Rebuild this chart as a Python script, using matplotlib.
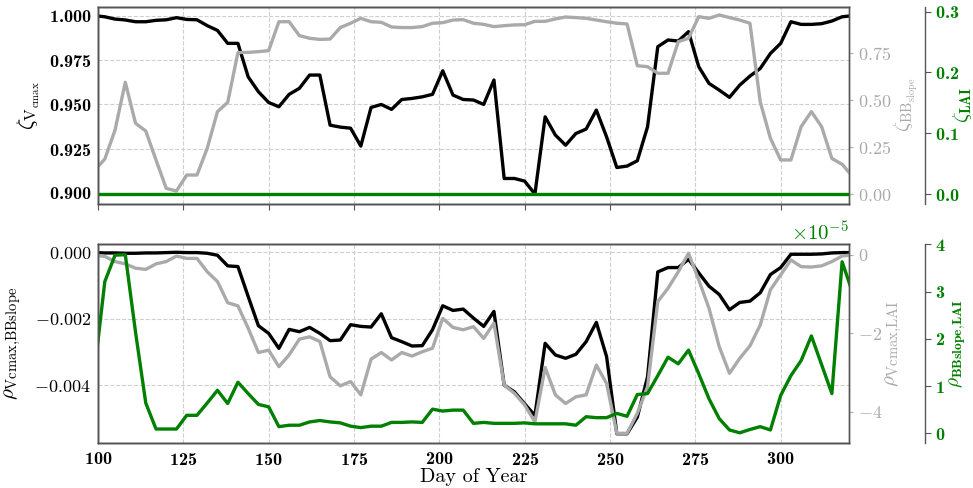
import numpy as np
import matplotlib
matplotlib.use('Agg')
import matplotlib.pyplot as plt
from matplotlib.ticker import FuncFormatter

# sample days (every 3 days, first and last fall just outside the x range)
days = list(range(99, 322, 3))

# top panel: zeta values
zeta_vcmax = [
    1.0000, 0.9994, 0.9981, 0.9976, 0.9966, 0.9966, 0.9974, 0.9977, 0.9989, 0.9979,
    0.9977, 0.9944, 0.9917, 0.9844, 0.9844, 0.9655, 0.9571, 0.9510, 0.9486, 0.9556,
    0.9590, 0.9665, 0.9665, 0.9382, 0.9371, 0.9365,
    0.9264, 0.9482, 0.9499, 0.9471, 0.9527, 0.9533, 0.9542, 0.9556, 0.9689, 0.9552,
    0.9527, 0.9524, 0.9499, 0.9637, 0.9081, 0.9081, 0.9066, 0.8993, 0.9429, 0.9326,
    0.9269, 0.9335, 0.9360, 0.9467,
    0.9316, 0.9143, 0.9151, 0.9181, 0.9373, 0.9825, 0.9863, 0.9857, 0.9910, 0.9712,
    0.9618, 0.9580, 0.9539, 0.9608, 0.9659, 0.9702, 0.9787, 0.9844, 0.9966, 0.9951,
    0.9951, 0.9955, 0.9970, 0.9994, 1.0000,
]
zeta_bbslope = [
    0.128, 0.188, 0.342, 0.596, 0.378, 0.337, 0.183, 0.032, 0.018, 0.103,
    0.103, 0.245, 0.440, 0.489, 0.754, 0.755, 0.759, 0.764, 0.918, 0.918,
    0.844, 0.830, 0.824, 0.826, 0.887, 0.910,
    0.936, 0.918, 0.915, 0.890, 0.887, 0.887, 0.892, 0.910, 0.913, 0.927,
    0.929, 0.910, 0.904, 0.892, 0.897, 0.901, 0.902, 0.920, 0.920, 0.933,
    0.943, 0.940, 0.936, 0.927,
    0.918, 0.910, 0.906, 0.684, 0.679, 0.644, 0.644, 0.812, 0.830, 0.945,
    0.936, 0.954, 0.940, 0.927, 0.910, 0.493, 0.298, 0.183, 0.183, 0.360,
    0.440, 0.360, 0.191, 0.160, 0.096,
]
zeta_lai = [
    0.0, 0.0, 0.0, 0.0, 0.0, 0.0, 0.0, 0.0, 0.0, 0.0, 0.0, 0.0, 0.0, 0.0, 0.0,
    0.0, 0.0, 0.0, 0.0, 0.0, 0.0, 0.0, 0.0, 0.0, 0.0, 0.0, 0.0, 0.0, 0.0, 0.0,
    0.0, 0.0, 0.0, 0.0, 0.0, 0.0, 0.0, 0.0, 0.0, 0.0, 0.0, 0.0, 0.0, 0.0, 0.0,
    0.0, 0.0, 0.0, 0.0, 0.0, 0.0, 0.0, 0.0, 0.0, 0.0, 0.0, 0.0, 0.0, 0.0, 0.0,
    0.0, 0.0, 0.0, 0.0, 0.0, 0.0, 0.0, 0.0, 0.0, 0.0, 0.0, 0.0, 0.0, 0.0, 0.0,
]

# bottom panel: rho values
rho_vcmax_bbslope = [
    -0.00001, -0.00002, -0.00002, -0.00003, -0.00003, -0.00002, -0.00002, -0.00001, 0.0, -0.00001,
    -0.00001, -0.00003, -0.00009, -0.00041, -0.00043, -0.00133, -0.00221, -0.00244, -0.00289, -0.00232,
    -0.00239, -0.00226, -0.00244, -0.00266, -0.00264, -0.00218,
    -0.00223, -0.00225, -0.00185, -0.00257, -0.00269, -0.00282, -0.00281, -0.00233, -0.00161, -0.00175,
    -0.00171, -0.00198, -0.00223, -0.00178, -0.00400, -0.00420, -0.00456, -0.00491, -0.00274, -0.00309,
    -0.00319, -0.00307, -0.00269, -0.00211,
    -0.00314, -0.00546, -0.00546, -0.00496, -0.00375, -0.00059, -0.00046, -0.00046, -0.00021, -0.00062,
    -0.00102, -0.00127, -0.00173, -0.00151, -0.00147, -0.00122, -0.00067, -0.00046, -0.00006, -0.00006,
    -0.00006, -0.00005, -0.00002, -0.00001, -0.00001,
]
rho_vcmax_lai = [
    -0.01, -0.04, -0.17, -0.23, -0.34, -0.37, -0.23, -0.17, -0.03, -0.09,
    -0.09, -0.43, -0.68, -1.22, -1.30, -1.87, -2.49, -2.43, -2.85, -2.55,
    -2.15, -2.09, -2.21, -3.11, -3.34, -3.23,
    -3.57, -2.66, -2.49, -2.68, -2.49, -2.58, -2.47, -2.38, -1.62, -1.85,
    -1.91, -1.83, -2.13, -1.74, -3.32, -3.53, -3.83, -4.26, -2.87, -3.57,
    -3.79, -3.62, -3.57, -2.81,
    -3.28, -4.55, -4.55, -4.04, -3.36, -1.19, -0.85, -0.43, 0.04, -0.64,
    -1.36, -2.34, -3.02, -2.64, -2.32, -1.79, -0.89, -0.51, -0.13, -0.30,
    -0.31, -0.28, -0.17, -0.03, 0.00,
]
# in units of 1e-5
rho_bbslope_lai = [
    1.33, 3.21, 3.77, 3.78, 2.14, 0.64, 0.09, 0.09, 0.09, 0.38,
    0.38, 0.64, 0.91, 0.63, 1.08, 0.84, 0.61, 0.56, 0.14, 0.17,
    0.17, 0.24, 0.27, 0.24, 0.22, 0.15,
    0.12, 0.15, 0.15, 0.23, 0.23, 0.24, 0.23, 0.51, 0.47, 0.49,
    0.49, 0.21, 0.23, 0.21, 0.21, 0.21, 0.22, 0.20, 0.20, 0.20,
    0.20, 0.17, 0.35, 0.33,
    0.33, 0.42, 0.36, 0.82, 0.84, 1.22, 1.61, 1.47, 1.76, 1.26,
    0.73, 0.31, 0.07, 0.01, 0.08, 0.14, 0.07, 0.80, 1.22, 1.54,
    2.06, 1.45, 0.84, 3.63, 2.99,
]

plt.rcParams['font.family'] = ['cmb10', 'DejaVu Sans']
plt.rcParams['mathtext.fontset'] = 'cm'
plt.rcParams['axes.formatter.use_mathtext'] = True

GREY = '#aaaaaa'
GREEN = 'green'
FRAME = '#555555'
LW = 2.4
TICK = 13

fig = plt.figure(figsize=(9.73, 4.88), dpi=100)
ax_top = fig.add_axes([0.1007, 0.5820, 0.7718, 0.4043])
ax_bot = fig.add_axes([0.1007, 0.0928, 0.7718, 0.4066], sharex=ax_top)


def setup_panel(ax, black, grey, green, green_scale):
    ax2 = ax.twinx()
    ax3 = ax.twinx()
    ax3.spines['right'].set_position(('axes', 1.101))

    ax.plot(days, black, color='black', lw=LW)
    ax2.plot(days, grey, color=GREY, lw=LW)
    ax3.plot(days, np.array(green) * green_scale, color=GREEN, lw=LW)

    ax.grid(True, linestyle='--', color='#cfcfcf', linewidth=0.8)
    for a in (ax, ax2, ax3):
        for s in a.spines.values():
            s.set_color(FRAME)
            s.set_linewidth(1.0)
    ax.tick_params(axis='y', length=0, labelsize=TICK, pad=5)
    ax2.tick_params(axis='y', length=3, color=GREY, labelcolor=GREY, labelsize=TICK)
    ax3.tick_params(axis='y', length=4, color=FRAME, labelcolor=GREEN, labelsize=TICK)
    return ax2, ax3


# top panel
t2, t3 = setup_panel(ax_top, zeta_vcmax, zeta_bbslope, zeta_lai, 1.0)
ax_top.set_xlim(100, 320)
ax_top.set_ylim(0.8937, 1.0051)
ax_top.set_yticks([0.900, 0.925, 0.950, 0.975, 1.000])
t2.set_ylim(-0.051, 0.998)
t2.set_yticks([0.0, 0.25, 0.5, 0.75])
t3.set_ylim(-0.016, 0.308)
t3.set_yticks([0.0, 0.1, 0.2, 0.3])
for lab in t2.get_yticklabels():
    lab.set_family('cmr10')
ax_top.tick_params(axis='x', labelbottom=False, length=4, color=FRAME, direction='out')
ax_top.set_ylabel(r'$\zeta_{\mathrm{V}_{\mathrm{cmax}}}$', fontsize=16)
ax_top.yaxis.set_label_coords(-0.075, 0.5)
t2.set_ylabel(r'$\zeta_{\mathrm{BB}_{\mathrm{slope}}}$', fontsize=15, color=GREY)
t2.yaxis.set_label_coords(1.059, 0.5)
t3.set_ylabel(r'$\zeta_{\mathbf{LAI}}$', fontsize=15, color=GREEN)
t3.yaxis.set_label_coords(1.136, 0.5)

# bottom panel
b2, b3 = setup_panel(ax_bot, rho_vcmax_bbslope, rho_vcmax_lai, rho_bbslope_lai, 1e-5)
ax_bot.set_ylim(-0.00573, 0.00024)
ax_bot.set_yticks([-0.004, -0.002, 0.0])
ax_bot.yaxis.set_major_formatter(FuncFormatter(lambda v, p: r'$\mathbf{%.3f}$' % v))
b2.set_ylim(-4.79, 0.27)
b2.set_yticks([-4, -2, 0])
b3.set_ylim(-0.2e-5, 4.0e-5)
b3.set_yticks([0, 1e-5, 2e-5, 3e-5, 4e-5])
for lab in b2.get_yticklabels():
    lab.set_family('cmr10')
off = b3.yaxis.get_offset_text()
off.set_color(GREEN)
off.set_fontsize(15)
off.set_family('cmr10')
ax_bot.set_xticks([100, 125, 150, 175, 200, 225, 250, 275, 300])
ax_bot.tick_params(axis='x', length=0, labelsize=TICK, pad=6)
ax_bot.set_xlabel('Day of Year', family='cmr10', fontsize=14.5, labelpad=0)
ax_bot.set_ylabel(r'$\rho_{\mathrm{Vcmax{,}BBslope}}$', fontsize=15)
ax_bot.yaxis.set_label_coords(-0.1, 0.5)
b2.set_ylabel(r'$\rho_{\mathrm{Vcmax{,}LAI}}$', fontsize=15, color=GREY)
b2.yaxis.set_label_coords(1.045, 0.5)
b3.set_ylabel(r'$\rho_{\mathbf{BBslope{,}LAI}}$', fontsize=14, color=GREEN)
b3.yaxis.set_label_coords(1.131, 0.5)

fig.savefig('out.png', dpi=100)
